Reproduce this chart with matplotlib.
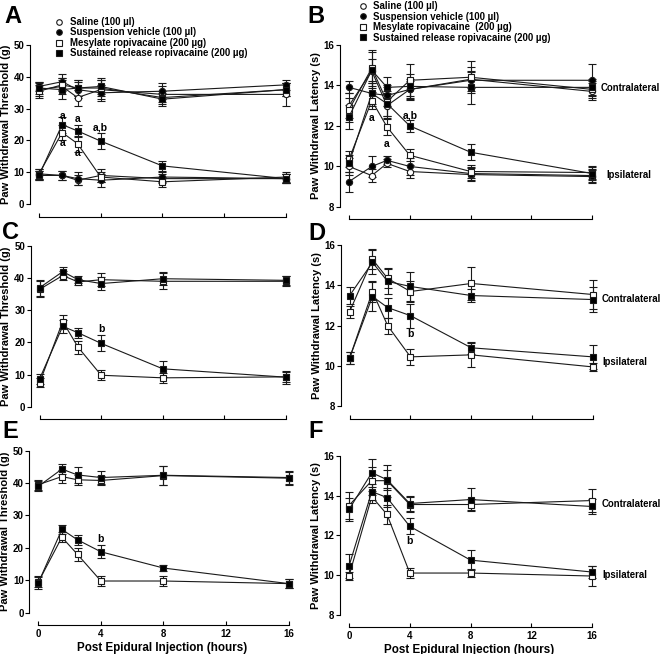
import matplotlib
matplotlib.use("Agg")
import matplotlib.pyplot as plt
from matplotlib.lines import Line2D

plt.rcParams['font.family'] = ['Liberation Sans', 'DejaVu Sans']
plt.rcParams['font.weight'] = 'bold'

# time points (hours)
t = [0, 1.5, 2.5, 4, 8, 16]

# Panel A - paw withdrawal threshold (g)
a_sal_c = [36, 37, 33.5, 36, 34.5, 34.5]
a_sal_c_err = [2, 2.5, 2.5, 3, 2.5, 3.5]
a_veh_c = [37, 38.5, 36, 35, 35.5, 37.5]
a_veh_c_err = [1.5, 2.5, 2.5, 2.5, 2.5, 1.5]
a_mes_c = [35.5, 37.5, 36.5, 36.5, 33.5, 36]
a_mes_c_err = [2, 2, 2.5, 2.5, 2, 2]
a_sr_c = [36.5, 36, 36.5, 37, 33, 36]
a_sr_c_err = [2, 3, 2.5, 2.5, 2, 2]
a_sal_i = [9.5, 9, 7.5, 9, 8, 8]
a_sal_i_err = [1.5, 1.5, 1.5, 2, 1.5, 1.5]
a_veh_i = [9, 9, 8, 7.5, 8.5, 8]
a_veh_i_err = [1.5, 1.5, 2, 2, 1.5, 1.5]
a_mes_i = [9.5, 22.5, 19, 8.5, 7, 8.5]
a_mes_i_err = [1.5, 2.5, 2.5, 1.5, 1.5, 1.5]
a_sr_i = [9, 25, 23, 19.8, 12, 8]
a_sr_i_err = [1.5, 2.5, 2, 2.5, 1.5, 1.5]

# Panel B - paw withdrawal latency (s)
b_sal_c = [13.0, 14.7, 13.0, 13.8, 14.3, 13.7]
b_sal_c_err = [0.6, 0.6, 0.6, 0.5, 0.6, 0.4]
b_veh_c = [13.9, 13.6, 13.5, 13.8, 14.25, 14.25]
b_veh_c_err = [0.3, 0.5, 0.5, 0.4, 0.4, 0.8]
b_mes_c = [12.8, 14.85, 13.2, 14.25, 14.4, 13.8]
b_mes_c_err = [0.6, 0.9, 0.7, 0.8, 0.8, 0.4]
b_sr_c = [12.45, 14.75, 13.9, 13.95, 13.9, 13.9]
b_sr_c_err = [0.6, 0.9, 0.5, 0.6, 0.8, 0.4]
b_sal_i = [10.0, 9.55, 10.15, 9.75, 9.6, 9.5]
b_sal_i_err = [0.4, 0.3, 0.2, 0.3, 0.3, 0.3]
b_veh_i = [9.25, 10.0, 10.3, 10.0, 9.65, 9.55]
b_veh_i_err = [0.5, 0.5, 0.2, 0.4, 0.3, 0.3]
b_mes_i = [10.35, 13.25, 11.95, 10.55, 9.75, 9.7]
b_mes_i_err = [0.4, 0.4, 0.4, 0.3, 0.3, 0.3]
b_sr_i = [10.15, 13.6, 13.1, 12.0, 10.7, 9.65]
b_sr_i_err = [0.4, 0.6, 0.6, 0.3, 0.4, 0.3]

# Panel C
c_mes_c = [36.5, 40.8, 38.8, 39.5, 39.0, 39.0]
c_mes_c_err = [2.5, 1.5, 1, 2, 2.5, 1.5]
c_sr_c = [37.0, 42.0, 39.5, 38.3, 39.8, 39.3]
c_sr_c_err = [2.5, 1.5, 1, 2, 2, 1.5]
c_mes_i = [7.5, 26.5, 18.5, 9.8, 9.0, 9.3]
c_mes_i_err = [1.5, 2, 2, 1.5, 1.5, 1.5]
c_sr_i = [8.7, 25.0, 23.0, 19.7, 11.8, 9.2]
c_sr_i_err = [1.5, 2, 1.5, 2.5, 2.5, 2]

# Panel D
d_mes_c = [12.7, 15.3, 14.35, 13.7, 14.1, 13.55]
d_mes_c_err = [0.3, 0.5, 0.5, 0.5, 0.8, 0.7]
d_sr_c = [13.5, 15.15, 14.2, 13.95, 13.5, 13.3]
d_sr_c_err = [0.4, 0.6, 0.6, 0.7, 0.3, 0.6]
d_mes_i = [10.4, 13.7, 12.0, 10.45, 10.55, 9.95]
d_mes_i_err = [0.3, 0.5, 0.4, 0.4, 0.6, 0.2]
d_sr_i = [10.4, 13.45, 12.9, 12.5, 10.9, 10.45]
d_sr_i_err = [0.3, 0.7, 0.5, 0.6, 0.3, 0.6]

# Panel E
e_mes_c = [39.5, 42.0, 41.0, 40.8, 42.3, 41.5]
e_mes_c_err = [1.5, 2, 1.5, 1.5, 3, 2]
e_sr_c = [39.0, 44.3, 42.5, 41.7, 42.4, 41.7]
e_sr_c_err = [1.5, 1.5, 2.5, 2, 3, 2]
e_mes_i = [9.5, 23.3, 18.0, 9.8, 9.8, 9.0]
e_mes_i_err = [1.5, 1.5, 2, 1.5, 1.5, 1.5]
e_sr_i = [9.3, 25.7, 22.5, 18.8, 13.8, 9.0]
e_sr_i_err = [2, 1.5, 1.5, 2, 0.8, 1.5]

# Panel F
f_mes_c = [13.5, 14.75, 14.75, 13.55, 13.55, 13.75]
f_mes_c_err = [0.7, 0.7, 0.8, 0.4, 0.3, 0.6]
f_sr_c = [13.3, 15.15, 14.8, 13.6, 13.8, 13.45]
f_sr_c_err = [0.6, 0.7, 0.5, 0.4, 0.6, 0.4]
f_mes_i = [9.95, 13.95, 13.05, 10.1, 10.1, 9.95]
f_mes_i_err = [0.2, 0.3, 0.5, 0.25, 0.2, 0.5]
f_sr_i = [10.45, 14.2, 13.9, 12.45, 10.75, 10.15]
f_sr_i_err = [0.6, 0.4, 0.5, 0.4, 0.5, 0.3]

legend_labels_a = ['Saline (100 µl)', 'Suspension vehicle (100 µl)',
                   'Mesylate ropivacaine (200 µg)',
                   'Sustained release ropivacaine (200 µg)']
legend_labels_b = ['Saline (100 µl)', 'Suspension vehicle (100 µl)',
                   'Mesylate ropivacaine  (200 µg)',
                   'Sustained release ropivacaine (200 µg)']

styles = {
    'sal': dict(marker='o', mfc='white', ms=4.5),
    'veh': dict(marker='o', mfc='black', ms=4.5),
    'mes': dict(marker='s', mfc='white', ms=5),
    'sr': dict(marker='s', mfc='black', ms=5),
}


def draw(ax, y, err, kind):
    st = styles[kind]
    ax.errorbar(t, y, yerr=err, color='#1a1a1a', lw=0.8, elinewidth=0.8,
                capsize=2.8, capthick=0.8, marker=st['marker'],
                ms=st['ms'], mfc=st['mfc'], mec='#1a1a1a', mew=0.8,
                clip_on=False)


def setup(ax, ylim, yticks, ylabel, show_x):
    ax.set_xlim(-0.58, 16.4)
    ax.set_ylim(*ylim)
    for s in ('top', 'right'):
        ax.spines[s].set_visible(False)
    ax.spines['left'].set_bounds(*ylim)
    ax.spines['bottom'].set_position(('outward', 9))
    ax.spines['bottom'].set_bounds(0, 16)
    for s in ('left', 'bottom'):
        ax.spines[s].set_linewidth(0.8)
    ax.set_xticks([0, 4, 8, 12, 16])
    ax.set_yticks(yticks)
    ax.tick_params(axis='y', direction='out', length=3, width=0.8,
                   labelsize=7, pad=1)
    ax.tick_params(axis='x', direction='in', length=3, width=0.8,
                   labelsize=7, pad=3)
    ax.set_ylabel(ylabel, fontsize=8, fontweight='bold', labelpad=2)
    if show_x:
        ax.set_xlabel('Post Epidural Injection (hours)', fontsize=8.4,
                      fontweight='bold', labelpad=1.5)
    else:
        ax.set_xticklabels([])


fig = plt.figure(figsize=(6.67, 6.54), dpi=100)
axA = fig.add_axes([0.045, 0.688, 0.393, 0.243])
axB = fig.add_axes([0.510, 0.6835, 0.387, 0.248])
axC = fig.add_axes([0.046, 0.378, 0.392, 0.246])
axD = fig.add_axes([0.511, 0.379, 0.387, 0.246])
axE = fig.add_axes([0.044, 0.063, 0.398, 0.248])
axF = fig.add_axes([0.510, 0.060, 0.387, 0.243])

thr = 'Paw Withdrawal Threshold (g)'
lat = 'Paw Withdrawal Latency (s)'
setup(axA, (0, 50), [0, 10, 20, 30, 40, 50], thr, False)
setup(axB, (8, 16), [8, 10, 12, 14, 16], lat, False)
setup(axC, (0, 50), [0, 10, 20, 30, 40, 50], thr, False)
setup(axD, (8, 16), [8, 10, 12, 14, 16], lat, False)
setup(axE, (0, 50), [0, 10, 20, 30, 40, 50], thr, True)
setup(axF, (8, 16), [8, 10, 12, 14, 16], lat, True)

# panel A
for y, e, k in [(a_sal_c, a_sal_c_err, 'sal'), (a_veh_c, a_veh_c_err, 'veh'),
                (a_mes_c, a_mes_c_err, 'mes'), (a_sr_c, a_sr_c_err, 'sr'),
                (a_sal_i, a_sal_i_err, 'sal'), (a_veh_i, a_veh_i_err, 'veh'),
                (a_mes_i, a_mes_i_err, 'mes'), (a_sr_i, a_sr_i_err, 'sr')]:
    draw(axA, y, e, k)
# panel B
for y, e, k in [(b_sal_c, b_sal_c_err, 'sal'), (b_veh_c, b_veh_c_err, 'veh'),
                (b_mes_c, b_mes_c_err, 'mes'), (b_sr_c, b_sr_c_err, 'sr'),
                (b_sal_i, b_sal_i_err, 'sal'), (b_veh_i, b_veh_i_err, 'veh'),
                (b_mes_i, b_mes_i_err, 'mes'), (b_sr_i, b_sr_i_err, 'sr')]:
    draw(axB, y, e, k)
# panels C-F
for ax, series in [
        (axC, [(c_mes_c, c_mes_c_err, 'mes'), (c_sr_c, c_sr_c_err, 'sr'),
               (c_mes_i, c_mes_i_err, 'mes'), (c_sr_i, c_sr_i_err, 'sr')]),
        (axD, [(d_mes_c, d_mes_c_err, 'mes'), (d_sr_c, d_sr_c_err, 'sr'),
               (d_mes_i, d_mes_i_err, 'mes'), (d_sr_i, d_sr_i_err, 'sr')]),
        (axE, [(e_mes_c, e_mes_c_err, 'mes'), (e_sr_c, e_sr_c_err, 'sr'),
               (e_mes_i, e_mes_i_err, 'mes'), (e_sr_i, e_sr_i_err, 'sr')]),
        (axF, [(f_mes_c, f_mes_c_err, 'mes'), (f_sr_c, f_sr_c_err, 'sr'),
               (f_mes_i, f_mes_i_err, 'mes'), (f_sr_i, f_sr_i_err, 'sr')])]:
    for y, e, k in series:
        draw(ax, y, e, k)

# significance letters
ann = dict(fontsize=7.5, fontweight='bold', ha='center', va='center')
axA.text(1.5, 27.8, 'a', **ann)
axA.text(1.5, 19.1, 'a', **ann)
axA.text(2.5, 26.8, 'a', **ann)
axA.text(2.5, 16.0, 'a', **ann)
axA.text(4, 24.2, 'a,b', **ann)
axB.text(1.5, 12.4, 'a', **ann)
axB.text(2.5, 11.1, 'a', **ann)
axB.text(4, 12.5, 'a,b', **ann)
axC.text(4, 24.2, 'b', **ann)
axD.text(4, 11.6, 'b', **ann)
axE.text(4, 22.9, 'b', **ann)
axF.text(4, 11.7, 'b', **ann)

# side labels
side = dict(fontsize=6.9, fontweight='bold', ha='left', va='center',
            clip_on=False)
axB.text(16.57, 13.88, 'Contralateral', **side)
axB.text(16.95, 9.6, 'Ipsilateral', **side)
axD.text(16.6, 13.35, 'Contralateral', **side)
axD.text(16.65, 10.17, 'Ipsilateral', **side)
axF.text(16.65, 13.57, 'Contralateral', **side)
axF.text(16.7, 10.0, 'Ipsilateral', **side)

# legends
def handles():
    out = []
    for k in ('sal', 'veh', 'mes', 'sr'):
        st = styles[k]
        out.append(Line2D([], [], ls='none', marker=st['marker'],
                          ms=st['ms'] - 0.5, mfc=st['mfc'], mec='#1a1a1a',
                          mew=0.8))
    return out


for ax, labels, x0, y0 in [(axA, legend_labels_a, 0.083, 0.974),
                           (axB, legend_labels_b, 0.538, 0.998)]:
    leg = ax.legend(handles(), labels, loc='upper left',
                    bbox_to_anchor=(x0, y0), bbox_transform=fig.transFigure,
                    frameon=False, fontsize=6.9, handlelength=0.8,
                    handletextpad=0.7, labelspacing=0.05, borderpad=0,
                    borderaxespad=0)

# panel letters (baseline placed)
for txt, x, y in [('A', 0.006, 0.965), ('B', 0.461, 0.965),
                  ('C', 0.003, 0.635), ('D', 0.462, 0.633),
                  ('E', 0.003, 0.331), ('F', 0.462, 0.331)]:
    fig.text(x, y, txt, fontsize=17, fontweight='bold', ha='left',
             va='baseline')

fig.savefig('out.png', dpi=100)
